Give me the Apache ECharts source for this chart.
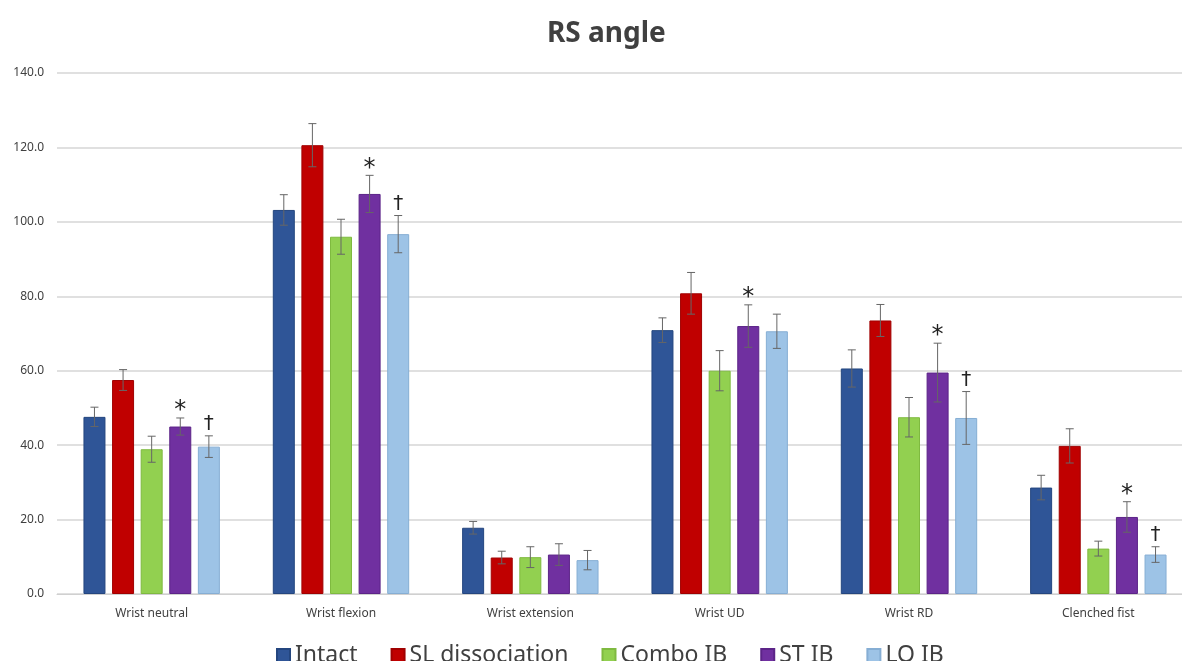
<!DOCTYPE html>
<html>
<head>
<meta charset="utf-8">
<script src="https://cdn.jsdelivr.net/npm/echarts@6/dist/echarts.min.js"></script>
<style>
  html, body { margin: 0; padding: 0; background: #fff; overflow: hidden; }
  /* plot area runs slightly past the right edge of the picture, as in the original */
  #chart { width: 1193px; height: 661px; }
</style>
</head>
<body>
<div id="chart"></div>
<script>
const categories = ["Wrist neutral", "Wrist flexion", "Wrist extension", "Wrist UD", "Wrist RD", "Clenched fist"];
const seriesNames = ["Intact", "SL dissociation", "Combo IB", "ST IB", "LO IB"];

const intact = [47.6, 103.2, 17.8, 70.9, 60.6, 28.6];
const slDissociation = [57.5, 120.6, 9.8, 80.8, 73.5, 39.8];
const comboIB = [38.9, 96.0, 9.9, 60.0, 47.5, 12.2];
const stIB = [45.0, 107.5, 10.6, 72.0, 59.5, 20.7];
const loIB = [39.6, 96.7, 9.1, 70.6, 47.3, 10.6];

const intactErr = [2.6, 4.1, 1.7, 3.3, 5.0, 3.3];
const slErr = [2.8, 5.8, 1.7, 5.6, 4.3, 4.6];
const comboErr = [3.5, 4.7, 2.8, 5.4, 5.3, 2.0];
const stErr = [2.3, 5.0, 2.9, 5.7, 7.9, 4.1];
const loErr = [2.9, 5.0, 2.6, 4.6, 7.1, 2.1];

// significance marks above ST IB and LO IB bars
const stMarks = ["*", "*", "", "*", "*", "*"];
const loMarks = ["\u2020", "\u2020", "", "", "\u2020", "\u2020"];

const yTicks = { min: 0, max: 140, interval: 20 };

const colors = ["#2F5597", "#C00000", "#92D050", "#7030A0", "#9DC3E6"];
const borders = ["#24467f", "#a00000", "#7fba40", "#5c2488", "#86aed4"];
const values = [intact, slDissociation, comboIB, stIB, loIB];
const errors = [intactErr, slErr, comboErr, stErr, loErr];
const marks = [null, null, null, stMarks, loMarks];

const BAR_W = 22;
const GAP = 6.6;

let chart = echarts.init(document.getElementById("chart"));

let series = [];
values.forEach((vals, i) => {
  series.push({
    name: seriesNames[i],
    type: "bar",
    data: vals,
    barWidth: BAR_W,
    barGap: "30%",
    itemStyle: { color: colors[i], borderColor: borders[i], borderWidth: 1 },
    z: 2,
  });
});

values.forEach((vals, i) => {
  let data = vals.map((v, k) => [k, v - errors[i][k], v + errors[i][k], marks[i] ? marks[i][k] : ""]);
  series.push({
    name: seriesNames[i] + " err",
    type: "custom",
    z: 5,
    silent: true,
    encode: { x: 0, y: [1, 2] },
    data: data,
    renderItem: (params, api) => {
      let total = 5 * BAR_W + 4 * GAP;
      let off = -total / 2 + i * (BAR_W + GAP) + BAR_W / 2;
      let lo = api.coord([api.value(0), api.value(1)]);
      let hi = api.coord([api.value(0), api.value(2)]);
      let x = lo[0] + off;
      let cap = 4;
      let style = { stroke: "#666", lineWidth: 1 };
      let children = [
        { type: "line", shape: { x1: x, y1: hi[1], x2: x, y2: lo[1] }, style: style },
        { type: "line", shape: { x1: x - cap, y1: hi[1], x2: x + cap, y2: hi[1] }, style: style },
        { type: "line", shape: { x1: x - cap, y1: lo[1], x2: x + cap, y2: lo[1] }, style: style },
      ];
      let mark = api.value(3);
      if (mark) {
        children.push({
          type: "text",
          style: {
            text: mark,
            x: x,
            y: hi[1] + (mark === "*" ? 5 : -2),
            align: "center",
            verticalAlign: "bottom",
            fill: "#222",
            font: mark === "*" ? "24px 'DejaVu Sans'" : "20px 'DejaVu Sans'",
          },
        });
      }
      return { type: "group", children: children };
    },
  });
});

let option = {
  animation: false,
  color: colors,
  title: {
    text: "RS angle",
    left: 542,
    top: 15,
    textStyle: { fontSize: 28, fontWeight: "bold", color: "#404040", fontFamily: "Noto Sans" },
  },
  legend: {
    data: seriesNames,
    left: 271,
    top: 639,
    itemWidth: 13,
    itemHeight: 13,
    itemGap: 33,
    icon: "rect",
    textStyle: { fontSize: 23, color: "#404040", fontFamily: "Noto Sans" },
  },
  grid: { left: 57, top: 73, right: 0, height: 521 },
  xAxis: {
    type: "category",
    data: categories,
    axisTick: { show: false },
    axisLine: { lineStyle: { color: "#d0d0d0" } },
    axisLabel: { fontSize: 12, color: "#404040", margin: 14, fontFamily: "Noto Sans" },
  },
  yAxis: {
    type: "value",
    min: yTicks.min,
    max: yTicks.max,
    interval: yTicks.interval,
    axisLine: { show: false },
    axisTick: { show: false },
    splitLine: { lineStyle: { color: "#d6d6d6", width: 1.5 } },
    axisLabel: {
      fontSize: 12,
      color: "#404040",
      margin: 13,
      fontFamily: "Noto Sans",
      formatter: (v) => v.toFixed(1),
    },
  },
  series: series,
};
chart.setOption(option);
</script>
</body>
</html>
